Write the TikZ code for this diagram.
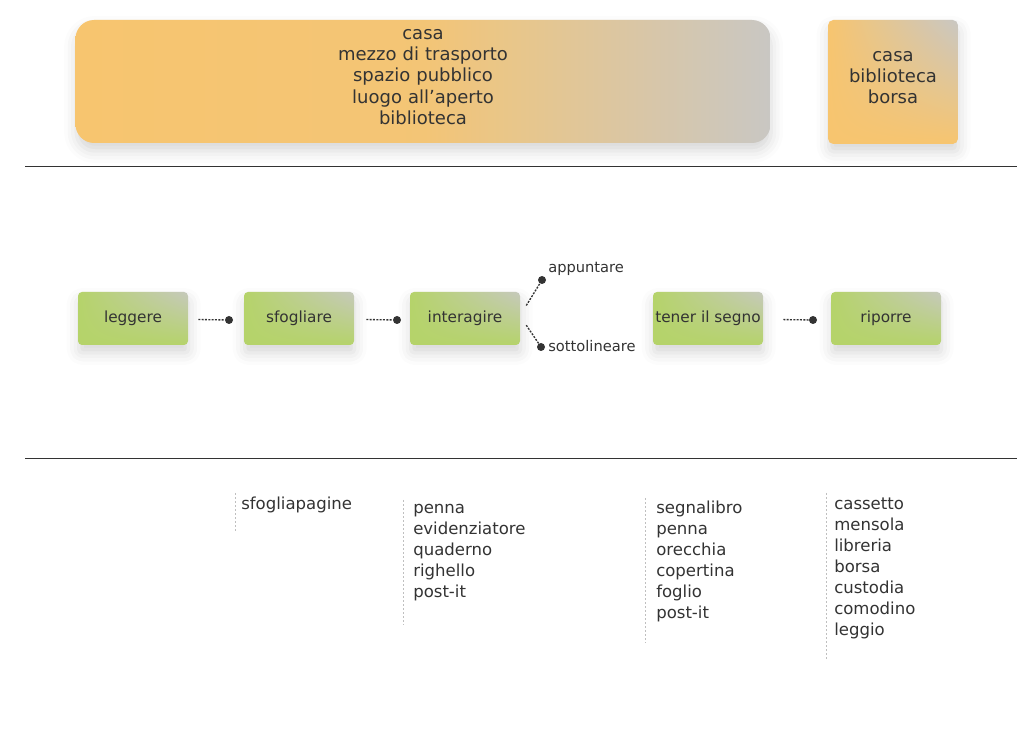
\documentclass[tikz,border=0pt]{standalone}
\usepackage{fontspec}
\setmainfont{DejaVu Sans}
\usetikzlibrary{shadows.blur,shadings}
\definecolor{boxorange}{HTML}{F7C56F}
\definecolor{boxgray}{HTML}{C9C7C3}
\definecolor{boxgreen}{HTML}{B5D36A}
\definecolor{greengray}{HTML}{C6C9BC}
\definecolor{inkgray}{HTML}{333333}
\begin{document}
\begin{tikzpicture}[x=0.75pt, y=-0.75pt,
		every node/.style={text=inkgray},
		softshadow/.style={blur shadow={shadow xshift=0.5pt, shadow yshift=-6pt, shadow blur radius=9pt, shadow opacity=16}},
		placebox/.style={softshadow, inner sep=0pt},
		placetext/.style={anchor=base, align=center, inner sep=0pt, text width=200pt, font=\fontsize{13.5}{15.9}\selectfont},
		actbox/.style={softshadow, rounded corners=3pt, minimum width=82.5pt, minimum height=39.75pt, inner sep=0pt,
			upper left=boxgreen, lower left=boxgreen, lower right=boxgreen, upper right=greengray, font=\fontsize{11.5}{13}\selectfont},
		enddot/.style={circle, fill=inkgray, inner sep=0pt, minimum size=6pt},
		link/.style={inkgray, line width=1pt, dash pattern=on 1.5pt off 1pt},
		sublabel/.style={anchor=west, inner sep=0pt, font=\fontsize{11}{12}\selectfont},
		listtext/.style={anchor=base west, align=left, inner sep=0pt, text width=100pt, font=\fontsize{12.4}{15.75}\selectfont},
		listline/.style={gray!50, line width=0.5pt, dash pattern=on 1.5pt off 1.5pt}]
	\useasboundingbox (0,0) rectangle (1017,730);

	% luoghi
	\node[placebox, rounded corners=14pt, minimum width=521.25pt, minimum height=92.25pt,
		left color=boxorange, right color=boxgray, middle color=boxorange!92!boxgray] (luoghi) at (423,81.5) {};
	\node[placetext] (luoghitxt) at (423,39.5) {casa\\mezzo di trasporto\\spazio pubblico\\luogo all’aperto\\biblioteca};
	\node[placebox, rounded corners=4pt, minimum width=97.5pt, minimum height=93pt,
		upper left=boxorange, lower left=boxorange, lower right=boxorange, upper right=boxgray] (dove) at (893,82) {};
	\node[placetext] (dovetxt) at (893,61.5) {casa\\biblioteca\\borsa};

	\draw[inkgray, line width=0.75pt] (25,167) -- (1017,167);
	\draw[inkgray, line width=0.75pt] (25,459) -- (1017,459);

	% azioni
	\node[actbox] (leggere) at (133,318.5) {leggere};
	\node[actbox] (sfogliare) at (299,318.5) {sfogliare};
	\node[actbox] (interagire) at (465,318.5) {interagire};
	\node[actbox] (segno) at (708,318.5) {tener il segno};
	\node[actbox] (riporre) at (886,318.5) {riporre};

	\node[enddot] (d1) at (229,320) {};
	\node[enddot] (d2) at (397,320) {};
	\node[enddot] (d3) at (813,320) {};
	\node[enddot] (a1) at (542,280) {};
	\node[enddot] (a2) at (541,347) {};
	\node[sublabel] (appuntare) at (548,268.5) {appuntare};
	\node[sublabel] (sottolineare) at (548,346.5) {sottolineare};

	\draw[link, shorten <=7.5pt] (leggere) -- (d1);
	\draw[link, shorten <=9pt] (sfogliare) -- (d2);
	\draw[link, shorten <=15pt] (segno) -- (d3);
	\draw[link] ([xshift=4.5pt, yshift=9.75pt]interagire.east) -- (a1);
	\draw[link] ([xshift=4.5pt, yshift=-5pt]interagire.east) -- (a2);

	% oggetti
	\draw[listline] (235,493) -- (235,532);
	\node[listtext] (obj1) at (241,509.5) {sfogliapagine};
	\draw[listline] (403,500) -- (403,625);
	\node[listtext] (obj2) at (413,513.5) {penna\\evidenziatore\\quaderno\\righello\\post-it};
	\draw[listline] (645,498) -- (645,643);
	\node[listtext] (obj3) at (656,513.5) {segnalibro\\penna\\orecchia\\copertina\\foglio\\post-it};
	\draw[listline] (826,493) -- (826,660);
	\node[listtext] (obj4) at (834,509.5) {cassetto\\mensola\\libreria\\borsa\\custodia\\comodino\\leggio};
	%\draw (0,0) rectangle (1017,730);
\end{tikzpicture}
\end{document}
